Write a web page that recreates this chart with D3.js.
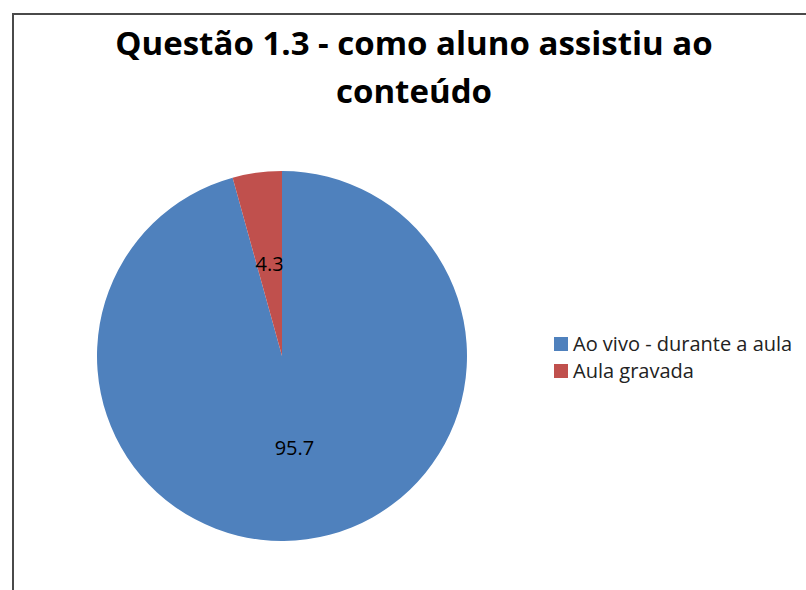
<!DOCTYPE html>
<html>
<head>
<meta charset="utf-8">
<script src="https://cdn.jsdelivr.net/npm/d3@7"></script>
<style>
  body { margin: 0; background: #fff; }
  svg { display: block; }
</style>
</head>
<body>
<div id="vis"></div>
<script>
// dados do grafico
var categorias = ["Ao vivo - durante a aula", "Aula gravada"];
var valores = [95.7, 4.3];
var cores = ["#4F81BD", "#C0504D"];

var width = 806, height = 590;
var fonte = "'Open Sans', 'Noto Sans', sans-serif";

var svg = d3.select("#vis")
  .append("svg")
    .attr("width", width)
    .attr("height", height);

// moldura
svg.append("rect")
  .attr("x", 13)
  .attr("y", 14)
  .attr("width", 820)
  .attr("height", 600)
  .attr("fill", "#fff")
  .attr("stroke", "#4a4a4a")
  .attr("stroke-width", 2);

// titulo
var titulo = svg.append("text")
  .attr("text-anchor", "middle")
  .style("font-family", fonte)
  .style("font-weight", "bold")
  .style("font-size", "33px")
  .attr("fill", "#000");
titulo.append("tspan").attr("x", 414).attr("y", 55).text("Questão 1.3 - como aluno assistiu ao");
titulo.append("tspan").attr("x", 414).attr("y", 103).text("conteúdo");

var cx = 282, cy = 356, r = 185;

var color = d3.scaleOrdinal()
  .domain(categorias)
  .range(cores);

var pie = d3.pie()
  .sort(null)
  .value(function(d) { return d.v; });

var dados = categorias.map(function(c, i) { return {cat: c, v: valores[i]}; });

var arc = d3.arc().innerRadius(0).outerRadius(r);

var g = svg.append("g")
  .attr("transform", "translate(" + cx + "," + cy + ")");

g.selectAll("path")
  .data(pie(dados))
  .enter()
  .append("path")
    .attr("d", arc)
    .attr("fill", function(d) { return color(d.data.cat); });

g.selectAll(".rotulo")
  .data(pie(dados))
  .enter()
  .append("text")
    .attr("class", "rotulo")
    .attr("transform", function(d) { return "translate(" + arc.centroid(d) + ")"; })
    .attr("text-anchor", "middle")
    .attr("dy", "0.35em")
    .style("font-family", fonte)
    .style("font-size", "20px")
    .attr("fill", "#000")
    .text(function(d) { return d.data.v; });

// legenda
var legenda = svg.append("g")
  .attr("transform", "translate(554,337)");

var item = legenda.selectAll(".item")
  .data(categorias)
  .enter()
  .append("g")
    .attr("class", "item")
    .attr("transform", function(d, i) { return "translate(0," + (i * 27) + ")"; });

item.append("rect")
  .attr("width", 14)
  .attr("height", 14)
  .attr("fill", function(d) { return color(d); });

item.append("text")
  .attr("x", 19)
  .attr("y", 7)
  .attr("dy", "0.35em")
  .style("font-family", fonte)
  .style("font-size", "20px")
  .attr("fill", "#222")
  .text(function(d) { return d; });
</script>
</body>
</html>
